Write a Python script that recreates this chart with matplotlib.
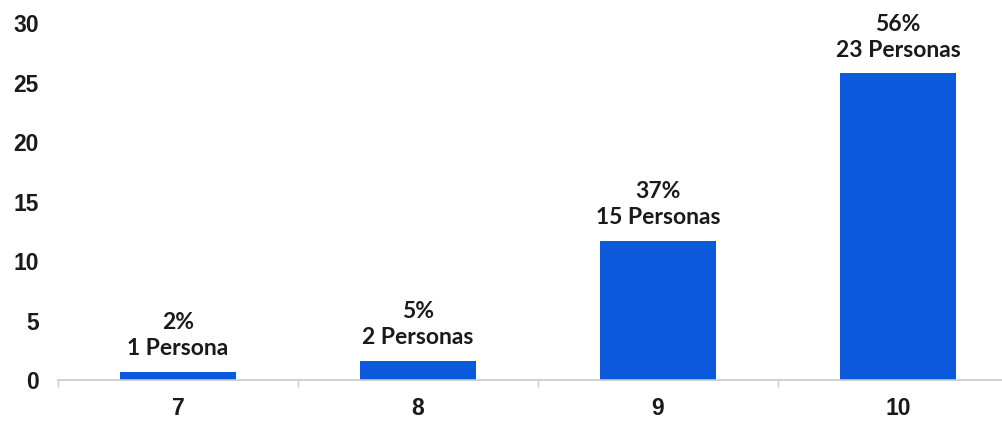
import matplotlib.pyplot as plt
from matplotlib.ticker import FixedLocator

# === DATOS ===
categorias = ['7', '8', '9', '10']
valores = [0.7, 1.6, 11.7, 25.8]
porcentajes = ['2%', '5%', '37%', '56%']
personas = ['1 Persona', '2 Personas', '15 Personas', '23 Personas']
yticks = [0, 5, 10, 15, 20, 25, 30]

color_barra = '#0D59DB'

fig = plt.figure(figsize=(10.03, 4.21), dpi=100)
ax = fig.add_axes([58 / 1003, 1 - 380 / 421, 960 / 1003, (380 - 23.5) / 421])

x = range(len(categorias))
barras = ax.bar(x, valores, width=0.48, color=color_barra, zorder=2)

# Etiquetas encima de cada barra
for xi, v, pct, per in zip(x, valores, porcentajes, personas):
    ax.annotate(f'{pct}\n{per}', xy=(xi, v), xytext=(0, 9), textcoords='offset points',
                ha='center', va='bottom', fontsize=16.5, fontweight='bold',
                family='Lato', color='#1a1a1a', linespacing=1.3)

ax.set_xlim(-0.5, 3.5)
ax.set_ylim(0, 30)
ax.set_yticks(yticks)
ax.set_xticks(list(x))
ax.set_xticklabels(categorias)
ax.xaxis.set_minor_locator(FixedLocator([-0.5, 0.5, 1.5, 2.5, 3.5]))

for lab in ax.get_xticklabels() + ax.get_yticklabels():
    lab.set_fontfamily('Liberation Sans')
    lab.set_fontweight('bold')
    lab.set_fontsize(16.5)
    lab.set_color('#1a1a1a')

ax.tick_params(axis='y', length=0, pad=14)
ax.tick_params(axis='x', which='major', length=0, pad=12)
ax.tick_params(axis='x', which='minor', length=5, width=1, color='#c8c8c8')

for lado in ['top', 'right', 'left']:
    ax.spines[lado].set_visible(False)
ax.spines['bottom'].set_color('#c8c8c8')
ax.spines['bottom'].set_linewidth(1.2)

fig.savefig('out.png', dpi=100)
